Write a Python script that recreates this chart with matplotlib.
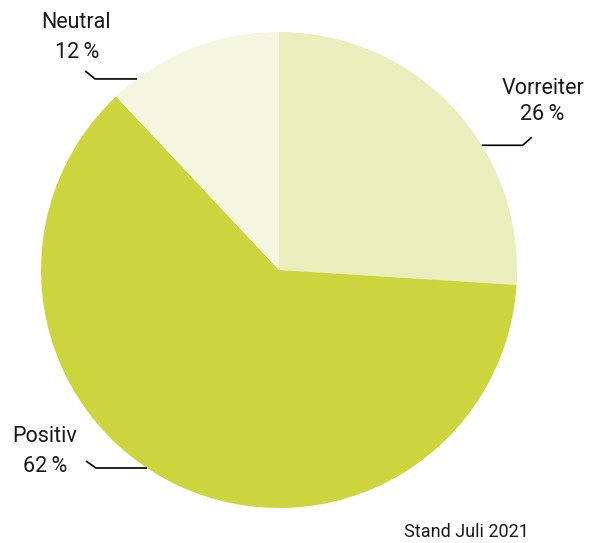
import numpy as np
import matplotlib
matplotlib.use("Agg")
import matplotlib.pyplot as plt

# ---- data ----
labels = ["Vorreiter", "Positiv", "Neutral"]
values = [26, 62, 12]
colors = ["#e9eebc", "#cdd53e", "#f4f6e0"]
footnote = "Stand Juli 2021"

plt.rcParams['font.family'] = ['Roboto', 'DejaVu Sans']

W, H = 599, 543
fig = plt.figure(figsize=(W / 100, H / 100), dpi=100)
cx, cy, R = 279, 270, 238
ax = fig.add_axes([(cx - R) / W, (H - cy - R) / H, 2 * R / W, 2 * R / H])
ax.pie(values, colors=colors, startangle=90, counterclock=False, radius=1,
       wedgeprops=dict(linewidth=0))
ax.set_xlim(-1, 1)
ax.set_ylim(-1, 1)
ax.set_aspect('equal')
ax.axis('off')

# leader-line styling: anchor angle on rim, horizontal length, hook offsets (px)
anchor_angles = {"Vorreiter": 31.6, "Positiv": -123.7, "Neutral": 126.6}
hooks = {"Vorreiter": (41, 9, -8), "Positiv": (-51, -10, -7), "Neutral": (-42, -10, -8)}
text_pos = {"Vorreiter": ((543, 89), (542, 115)),
            "Positiv": ((45, 437), (45, 466)),
            "Neutral": ((76, 23), (77, 52))}

for lab, val in zip(labels, values):
    a = np.deg2rad(anchor_angles[lab])
    x0, y0 = np.cos(a), np.sin(a)
    hl, hx, hy = hooks[lab]
    x1 = x0 + hl / R
    x2 = x1 + hx / R
    y2 = y0 - hy / R
    ax.plot([x0, x1, x2], [y0, y0, y2], color='black', lw=1.2,
            solid_capstyle='butt', clip_on=False)
    (tx1, ty1), (tx2, ty2) = text_pos[lab]
    fig.text(tx1 / W, 1 - ty1 / H, lab, ha='center', va='center', fontsize=15.5, color='#1a1a1a')
    fig.text(tx2 / W, 1 - ty2 / H, f"{val}\u2009%", ha='center', va='center', fontsize=15.5, color='#1a1a1a')

fig.text(466 / W, 1 - 532 / H, footnote, ha='center', va='center', fontsize=13, color='#1a1a1a')

fig.savefig("out.png", dpi=100, facecolor='white')
